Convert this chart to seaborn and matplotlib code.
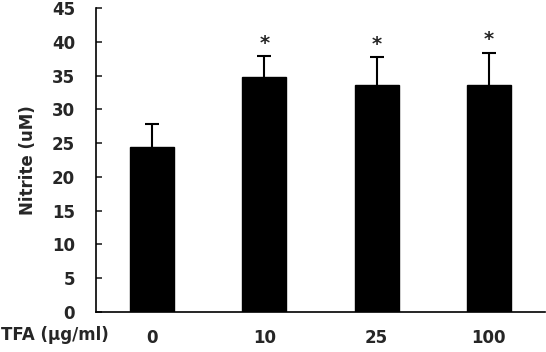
import numpy as np
import pandas as pd
import matplotlib
matplotlib.use('Agg')
import matplotlib.pyplot as plt
import seaborn as sns

sns.set_style('white')
plt.rcParams['font.family'] = ['DejaVu Sans']
plt.rcParams['font.weight'] = 'bold'

# values
doses = ['0', '10', '25', '100']
nitrite = [24.4, 34.8, 33.6, 33.6]
sd_upper = [3.5, 3.1, 4.1, 4.8]
significant = [False, True, True, True]

df = pd.DataFrame({'dose': doses, 'nitrite': nitrite})

fig = plt.figure(figsize=(5.46, 3.52), dpi=100)
ax = fig.add_axes([96 / 546, 40 / 352, 449 / 546, 304 / 352])

sns.barplot(data=df, x='dose', y='nitrite', order=doses, color='black',
            edgecolor='black', width=0.39, errorbar=None, ax=ax, zorder=2)

# only the upper half of the error bars is drawn
x = np.arange(len(doses))
_, caps, _ = ax.errorbar(x, nitrite, yerr=[np.zeros(len(doses)), sd_upper],
                         fmt='none', ecolor='black', elinewidth=1.5,
                         capsize=5, capthick=1.5, zorder=1)
caps[0].set_visible(False)

for xi, v, e, s in zip(x, nitrite, sd_upper, significant):
    if s:
        ax.text(xi, v + e + 0.5, '*', ha='center', va='bottom',
                fontsize=14, fontweight='bold')

ax.set_xlim(-0.5, 3.5)
ax.set_ylim(0, 45)
ax.set_yticks(range(0, 46, 5))
ax.set_xticks(x)
ax.set_xticklabels(doses)
ax.set_xticks([0.5, 1.5, 2.5, 3.5], minor=True)
ax.tick_params(axis='x', which='major', length=0, pad=12, labelsize=12)
ax.tick_params(axis='x', which='minor', direction='in', length=4, width=1.2)
ax.tick_params(axis='y', direction='in', length=4, width=1.2, left=True,
               labelsize=12, pad=15)

ax.set_xlabel('')
ax.set_ylabel('Nitrite (uM)', fontsize=12, fontweight='bold', labelpad=11)
for side in ['top', 'right']:
    ax.spines[side].set_visible(False)
for side in ['left', 'bottom']:
    ax.spines[side].set_color('black')
    ax.spines[side].set_linewidth(1.2)

fig.text(1 / 546, 1 - 335 / 352, 'TFA (μg/ml)', ha='left', va='center',
         fontsize=12, fontweight='bold')

fig.savefig('out.png', dpi=100)
